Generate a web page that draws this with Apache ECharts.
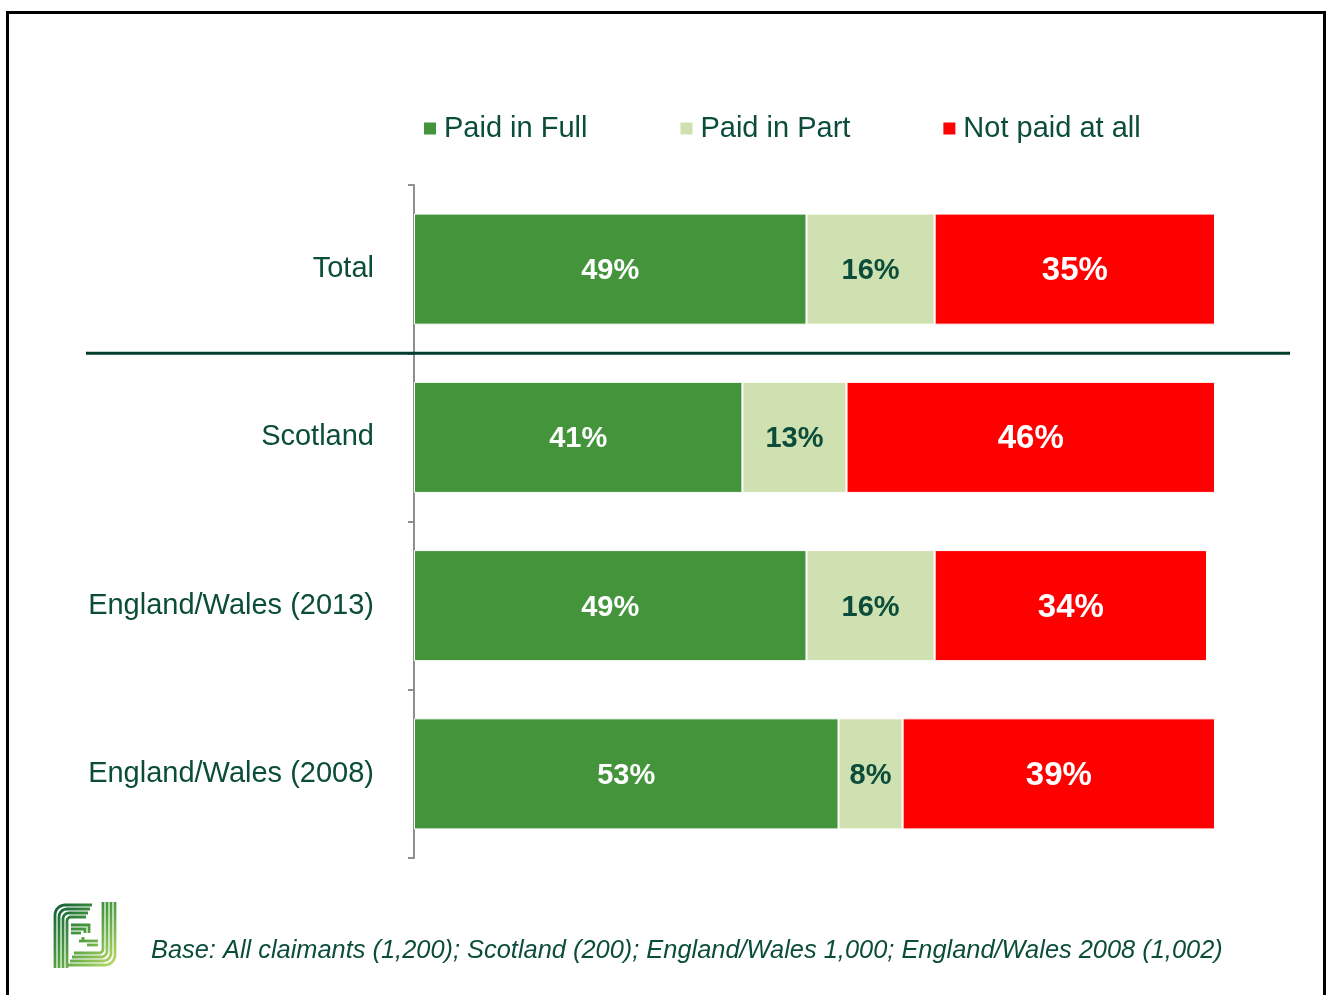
<!DOCTYPE html>
<html>
<head>
<meta charset="utf-8">
<title>Payment of awards</title>
<script src="https://cdn.jsdelivr.net/npm/echarts@6/dist/echarts.min.js"></script>
<style>
  html, body { margin: 0; padding: 0; background: #ffffff; }
  #chart { width: 1328px; height: 995px; }
</style>
</head>
<body>
<div id="chart"></div>
<script>
// Categories (top to bottom) and the share of claimants in each payment group (%)
const categories = ['Total', 'Scotland', 'England/Wales (2013)', 'England/Wales (2008)'];
const paidInFull = [49, 41, 49, 53];
const paidInPart = [16, 13, 16, 8];
const notPaidAtAll = [35, 46, 34, 39];
const seriesNames = ['Paid in Full', 'Paid in Part', 'Not paid at all'];
const footnote = 'Base: All claimants (1,200); Scotland (200); England/Wales 1,000; England/Wales 2008 (1,002)';

const FONT = "'Liberation Sans', Arial, sans-serif";
const TEXT = '#0B4D3A';
const COLORS = ['#43943B', '#CFE1B0', '#FF0000'];
const LABEL_COLORS = ['#FFFFFF', '#0B4D3A', '#FFFFFF'];
const LABEL_SIZES = [29, 29, 33];

const chart = echarts.init(document.getElementById('chart'), null, { renderer: 'canvas' });

function barSeries(name, values, idx) {
  return {
    name: name,
    type: 'bar',
    stack: 'share',
    data: values,
    barCategoryGap: '34%',
    itemStyle: { color: COLORS[idx], borderColor: '#FFFFFF', borderWidth: 1 },
    label: {
      show: true,
      position: 'inside',
      offset: [0, 2],
      formatter: '{c}%',
      color: LABEL_COLORS[idx],
      fontFamily: FONT,
      fontWeight: 'bold',
      fontSize: LABEL_SIZES[idx]
    },
    emphasis: { disabled: true }
  };
}

// Quarter-circle points for a rounded corner
function arcPts(cx, cy, r, a0, a1) {
  const pts = [];
  const n = 6;
  for (let k = 0; k <= n; k++) {
    const a = a0 + (a1 - a0) * k / n;
    pts.push([cx + r * Math.cos(a), cy + r * Math.sin(a)]);
  }
  return pts;
}

// Logo: striped F / J monogram
function logoLines() {
  const lines = [];
  for (let i = 0; i < 4; i++) {
    const o = 3 + 4 * i;
    const R = 10 - i * 2;
    // F: up the left side and across the top
    lines.push([[o, 66]].concat(arcPts(o + R, o + R, R, Math.PI, 1.5 * Math.PI), [[40 - i * 2, o]]));
    // J: down the right side and back along the bottom
    const r = 63 - 4 * i;
    lines.push([[r, 0]].concat(arcPts(r - R, r - R, R, 0, 0.5 * Math.PI), [[16 + i * 2, r]]));
  }
  // F arm and J hook
  lines.push([[19, 23], [37, 23], [37, 31]]);
  lines.push([[19, 27], [33, 27], [33, 31]]);
  lines.push([[19, 31], [29, 31]]);
  lines.push([[27, 39], [46, 39]]);
  lines.push([[31, 35], [31, 39]]);
  lines.push([[35, 43], [46, 43]]);
  return lines;
}

const logoGradient = {
  type: 'linear', x: 0, y: 0, x2: 66, y2: 66, global: true,
  colorStops: [
    { offset: 0, color: '#0B5A3A' },
    { offset: 0.5, color: '#4FA040' },
    { offset: 1, color: '#C8E070' }
  ]
};

function buildGraphics(sepY) {
  const g = [
    {
      type: 'rect',
      silent: true,
      shape: { x: 7.5, y: 12.5, width: 1317, height: 1000 },
      style: { fill: 'none', stroke: '#000000', lineWidth: 3 }
    },
    {
      type: 'text',
      silent: true,
      x: 151,
      y: 951,
      style: {
        text: footnote,
        font: `italic 25.4px ${FONT}`,
        fill: TEXT,
        verticalAlign: 'middle'
      }
    },
    {
      type: 'group',
      silent: true,
      x: 52,
      y: 902,
      children: logoLines().map(pts => ({
        type: 'polyline',
        shape: { points: pts },
        style: { fill: 'none', stroke: logoGradient, lineWidth: 2.8 }
      }))
    }
  ];
  if (sepY != null) {
    g.push({
      type: 'line',
      silent: true,
      z: 100,
      shape: { x1: 86, y1: sepY, x2: 1290, y2: sepY },
      style: { stroke: '#003D2E', lineWidth: 3 }
    });
  }
  return g;
}

const option = {
  animation: false,
  backgroundColor: '#FFFFFF',
  textStyle: { fontFamily: FONT },
  color: COLORS,
  legend: {
    data: seriesNames,
    left: 422,
    top: 114,
    padding: 0,
    icon: 'rect',
    itemWidth: 14,
    itemHeight: 14,
    itemGap: 91,
    selectedMode: false,
    textStyle: { color: TEXT, fontSize: 29, fontFamily: FONT, padding: [0, 0, 0, 2] }
  },
  grid: { left: 414, right: 113, top: 185, bottom: 137, containLabel: false },
  xAxis: {
    type: 'value',
    min: 0,
    max: 100,
    show: false
  },
  yAxis: {
    type: 'category',
    data: categories,
    inverse: true,
    axisLine: { show: true, lineStyle: { color: '#8C918E', width: 2 } },
    axisTick: { show: true, length: 6, lineStyle: { color: '#8C918E', width: 2 } },
    axisLabel: { color: TEXT, fontSize: 29, fontFamily: FONT, margin: 40 },
    splitLine: { show: false }
  },
  series: [
    barSeries(seriesNames[0], paidInFull, 0),
    barSeries(seriesNames[1], paidInPart, 1),
    barSeries(seriesNames[2], notPaidAtAll, 2)
  ],
  graphic: buildGraphics(null)
};

chart.setOption(option);

// Separator between the total row and the breakdown rows, placed on the category boundary
const yTotal = chart.convertToPixel({ yAxisIndex: 0 }, categories[0]);
const yNext = chart.convertToPixel({ yAxisIndex: 0 }, categories[1]);
chart.setOption({ graphic: buildGraphics((yTotal + yNext) / 2) }, { replaceMerge: ['graphic'] });
</script>
</body>
</html>
